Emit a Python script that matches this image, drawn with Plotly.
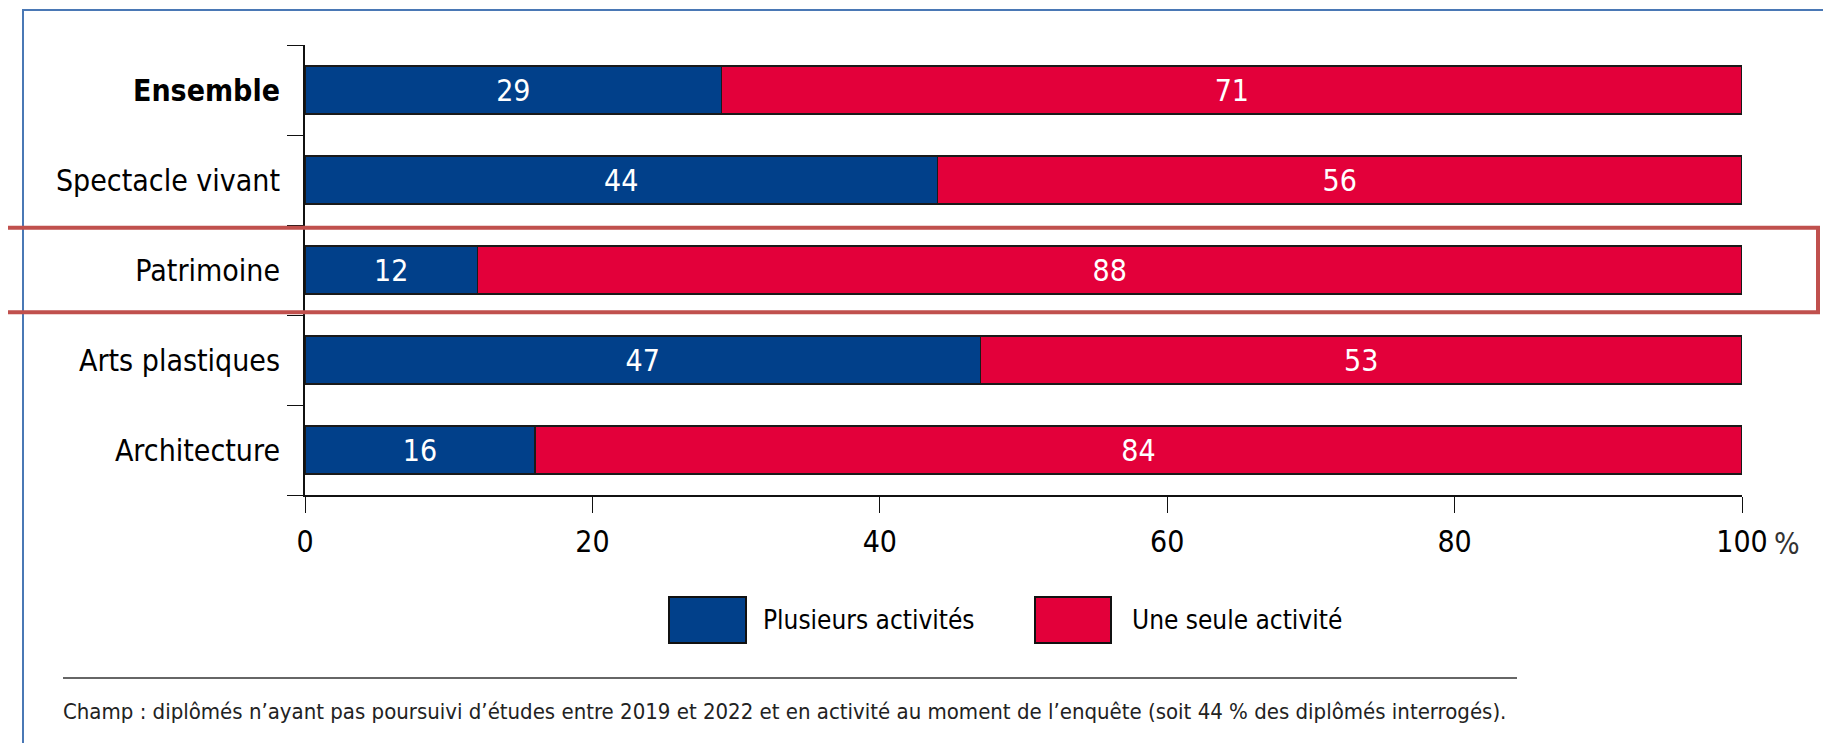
import plotly.graph_objects as go

# data (%)
categories = ["Ensemble", "Spectacle vivant", "Patrimoine", "Arts plastiques", "Architecture"]
plusieurs = [29, 44, 12, 47, 16]
une_seule = [71, 56, 88, 53, 84]
x_ticks = [0, 20, 40, 60, 80, 100]
series_names = ["Plusieurs activités", "Une seule activité"]
footnote = ("Champ : diplômés n’ayant pas poursuivi d’études entre 2019 et 2022 et en activité "
            "au moment de l’enquête (soit 44 % des diplômés interrogés).")

BLUE = "#01408a"
RED = "#e3003a"
FONT = "DejaVu Sans Condensed, Liberation Sans Narrow, sans-serif"

# page body has an 8px margin, so the figure is a bit smaller than the window
OFF = 8
W, H = 1831 - 2 * OFF, 751 - 2 * OFF
L, T = 305 - OFF, 45 - OFF
R = W - (1742 - OFF)
B = H - (495 - OFF)
pw, ph = W - L - R, H - T - B


# helpers: page pixel -> paper coords
def px_x(px):
    return (px - OFF - L) / pw


def px_y(py):
    return (H - B - (py - OFF)) / ph


fig = go.Figure()
for name, vals, col in [(series_names[0], plusieurs, BLUE), (series_names[1], une_seule, RED)]:
    fig.add_trace(go.Bar(
        y=categories, x=vals, name=name, orientation="h",
        marker=dict(color=col, line=dict(color="#1a1a1a", width=1.5)),
        width=0.53,
        text=vals, texttemplate="%{x}", textposition="inside",
        insidetextanchor="middle",
        textfont=dict(family=FONT, size=30, color="white"),
        showlegend=False,
    ))

ticktext = ["<b>%s</b>" % c if c == "Ensemble" else c for c in categories]

fig.update_layout(
    barmode="stack",
    width=W, height=H,
    margin=dict(l=L, r=R, t=T, b=B, pad=0),
    paper_bgcolor="white", plot_bgcolor="white",
    font=dict(family=FONT, color="black"),
    xaxis=dict(range=[0, 100], tickvals=x_ticks, ticktext=[str(v) for v in x_ticks],
               showgrid=False, zeroline=False, showline=True, linecolor="#111", linewidth=2,
               ticks="outside", ticklen=16, tickwidth=1.2, tickcolor="#111",
               tickfont=dict(size=30), ticklabelstandoff=3),
    yaxis=dict(type="category", categoryorder="array", categoryarray=categories,
               autorange="reversed", tickmode="array", tickvals=categories, ticktext=ticktext,
               tickson="boundaries", showgrid=False, showline=True, linecolor="#111",
               linewidth=2, ticks="outside", ticklen=16, tickwidth=1.2, tickcolor="#111",
               tickfont=dict(size=30), ticklabelstandoff=17),
)

pat = categories.index("Patrimoine")
shapes = [
    # outer frame (only top and left edges are visible)
    dict(type="rect", xref="paper", yref="paper", x0=px_x(23), x1=px_x(1900),
         y0=px_y(800), y1=px_y(10), line=dict(color="#4a78b5", width=2)),
    # highlight around Patrimoine
    dict(type="rect", xref="paper", yref="y", x0=px_x(5), x1=px_x(1818),
         y0=pat - 0.47, y1=pat + 0.47, line=dict(color="#c0504d", width=4)),
    # legend boxes
    dict(type="rect", xref="paper", yref="paper", x0=px_x(669), x1=px_x(746),
         y0=px_y(643), y1=px_y(597), fillcolor=BLUE, line=dict(color="#111", width=2)),
    dict(type="rect", xref="paper", yref="paper", x0=px_x(1035), x1=px_x(1111),
         y0=px_y(643), y1=px_y(597), fillcolor=RED, line=dict(color="#111", width=2)),
    # separator above footnote
    dict(type="line", xref="paper", yref="paper", x0=px_x(63), x1=px_x(1517),
         y0=px_y(678), y1=px_y(678), line=dict(color="#333", width=1.5)),
]

annotations = [
    dict(text=series_names[0], xref="paper", yref="paper", x=px_x(761), y=px_y(620),
         xanchor="left", yanchor="middle", showarrow=False, font=dict(size=26)),
    dict(text=series_names[1], xref="paper", yref="paper", x=px_x(1130), y=px_y(620),
         xanchor="left", yanchor="middle", showarrow=False, font=dict(size=26)),
    dict(text="%", xref="paper", yref="paper", x=px_x(1772), y=px_y(543),
         xanchor="left", yanchor="middle", showarrow=False, font=dict(size=30, color="#333")),
    dict(text=footnote, xref="paper", yref="paper", x=px_x(61), y=px_y(711),
         xanchor="left", yanchor="middle", showarrow=False, font=dict(size=22, color="#222")),
]

fig.update_layout(shapes=shapes, annotations=annotations)

fig.write_html("out.html")
